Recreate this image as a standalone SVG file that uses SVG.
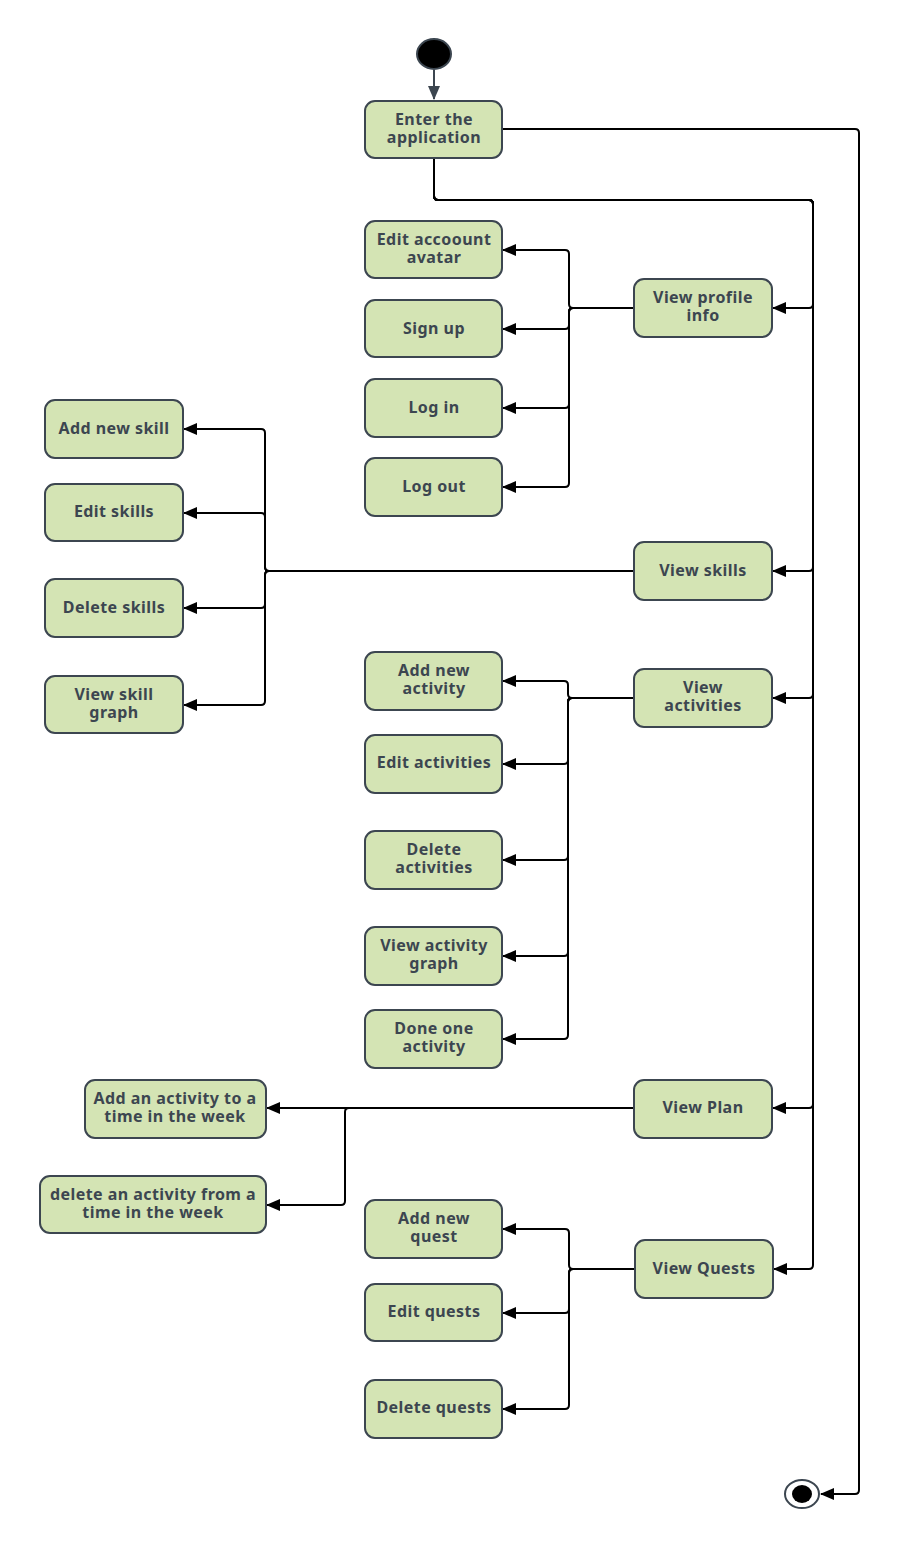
<svg xmlns="http://www.w3.org/2000/svg" width="900" height="1549" viewBox="0 0 900 1549">
  <style>
    .box { fill: #d4e4b4; stroke: #3c4650; stroke-width: 2; }
    .lbl { font-family: "Noto Sans", "Liberation Sans", sans-serif; font-weight: 700; font-size: 16px; letter-spacing: 0.45px; fill: #3c4650; text-anchor: middle; dominant-baseline: central; }
    .wire { fill: none; stroke: #000; stroke-width: 2; }
  </style>
  <defs>
    <marker id="arrow" markerUnits="userSpaceOnUse" markerWidth="14" markerHeight="12" refX="13" refY="6" orient="auto">
      <path d="M0,0 L14,6 L0,12 z" fill="#000"/>
    </marker>
    <marker id="arrowGrey" markerUnits="userSpaceOnUse" markerWidth="14" markerHeight="12" refX="13" refY="6" orient="auto">
      <path d="M0,0 L14,6 L0,12 z" fill="#3c4650"/>
    </marker>
  </defs>

  <!-- connectors -->
  <g id="connectors">
    <path d="M434,70 L434,99" fill="none" stroke="#3c4650" stroke-width="2" marker-end="url(#arrowGrey)"/>
    <!-- enter -> end -->
    <path class="wire" d="M502,129 L855,129 Q859,129 859,133 L859,1490 Q859,1494 855,1494 L821,1494" marker-end="url(#arrow)"/>
    <!-- enter -> main views -->
    <path class="wire" d="M434,158 L434,196 Q434,200 438,200 L809,200 Q813,200 813,204 L813,304 Q813,308 809,308 L773,308" marker-end="url(#arrow)"/>
    <path class="wire" d="M434,158 L434,196 Q434,200 438,200 L809,200 Q813,200 813,204 L813,567 Q813,571 809,571 L773,571" marker-end="url(#arrow)"/>
    <path class="wire" d="M434,158 L434,196 Q434,200 438,200 L809,200 Q813,200 813,204 L813,694 Q813,698 809,698 L773,698" marker-end="url(#arrow)"/>
    <path class="wire" d="M434,158 L434,196 Q434,200 438,200 L809,200 Q813,200 813,204 L813,1104 Q813,1108 809,1108 L773,1108" marker-end="url(#arrow)"/>
    <path class="wire" d="M434,158 L434,196 Q434,200 438,200 L809,200 Q813,200 813,204 L813,1265 Q813,1269 809,1269 L774,1269" marker-end="url(#arrow)"/>

    <!-- profile -->
    <path class="wire" d="M634,308 L573,308 Q569,308 569,304 L569,254 Q569,250 565,250 L503,250" marker-end="url(#arrow)"/>
    <path class="wire" d="M634,308 L573,308 Q569,308 569,312 L569,325 Q569,329 565,329 L503,329" marker-end="url(#arrow)"/>
    <path class="wire" d="M634,308 L573,308 Q569,308 569,312 L569,404 Q569,408 565,408 L503,408" marker-end="url(#arrow)"/>
    <path class="wire" d="M634,308 L573,308 Q569,308 569,312 L569,483 Q569,487 565,487 L503,487" marker-end="url(#arrow)"/>

    <!-- skills -->
    <path class="wire" d="M634,571 L269,571 Q265,571 265,567 L265,433 Q265,429 261,429 L184,429" marker-end="url(#arrow)"/>
    <path class="wire" d="M634,571 L269,571 Q265,571 265,567 L265,517 Q265,513 261,513 L184,513" marker-end="url(#arrow)"/>
    <path class="wire" d="M634,571 L269,571 Q265,571 265,575 L265,604 Q265,608 261,608 L184,608" marker-end="url(#arrow)"/>
    <path class="wire" d="M634,571 L269,571 Q265,571 265,575 L265,701 Q265,705 261,705 L184,705" marker-end="url(#arrow)"/>

    <!-- activities -->
    <path class="wire" d="M634,698 L572,698 Q568,698 568,694 L568,685 Q568,681 564,681 L503,681" marker-end="url(#arrow)"/>
    <path class="wire" d="M634,698 L572,698 Q568,698 568,702 L568,760 Q568,764 564,764 L503,764" marker-end="url(#arrow)"/>
    <path class="wire" d="M634,698 L572,698 Q568,698 568,702 L568,856 Q568,860 564,860 L503,860" marker-end="url(#arrow)"/>
    <path class="wire" d="M634,698 L572,698 Q568,698 568,702 L568,952 Q568,956 564,956 L503,956" marker-end="url(#arrow)"/>
    <path class="wire" d="M634,698 L572,698 Q568,698 568,702 L568,1035 Q568,1039 564,1039 L503,1039" marker-end="url(#arrow)"/>

    <!-- plan -->
    <path class="wire" d="M634,1108 L267,1108" marker-end="url(#arrow)"/>
    <path class="wire" d="M634,1108 L349,1108 Q345,1108 345,1112 L345,1201 Q345,1205 341,1205 L267,1205" marker-end="url(#arrow)"/>

    <!-- quests -->
    <path class="wire" d="M635,1269 L573,1269 Q569,1269 569,1265 L569,1233 Q569,1229 565,1229 L503,1229" marker-end="url(#arrow)"/>
    <path class="wire" d="M635,1269 L573,1269 Q569,1269 569,1273 L569,1309 Q569,1313 565,1313 L503,1313" marker-end="url(#arrow)"/>
    <path class="wire" d="M635,1269 L573,1269 Q569,1269 569,1273 L569,1405 Q569,1409 565,1409 L503,1409" marker-end="url(#arrow)"/>
  </g>

  <!-- start / end -->
  <g id="start"><ellipse cx="434" cy="54" rx="17" ry="15" fill="#000" stroke="#3c4650" stroke-width="2"/></g>
  <g id="end">
    <ellipse cx="802" cy="1494" rx="17" ry="14" fill="#fff" stroke="#3c4650" stroke-width="2"/>
    <ellipse cx="802" cy="1494" rx="10" ry="9" fill="#000"/>
  </g>

  <!-- nodes -->
  <g id="enter"><rect class="box" x="365" y="101" width="137" height="57" rx="10"/><text class="lbl" x="434" y="119">Enter the<tspan x="434" dy="18">application</tspan></text></g>

  <g id="edit-avatar"><rect class="box" x="365" y="221" width="137" height="57" rx="10"/><text class="lbl" x="434" y="239">Edit accoount<tspan x="434" dy="18">avatar</tspan></text></g>
  <g id="sign-up"><rect class="box" x="365" y="300" width="137" height="57" rx="10"/><text class="lbl" x="434" y="328">Sign up</text></g>
  <g id="log-in"><rect class="box" x="365" y="379" width="137" height="58" rx="10"/><text class="lbl" x="434" y="407">Log in</text></g>
  <g id="log-out"><rect class="box" x="365" y="458" width="137" height="58" rx="10"/><text class="lbl" x="434" y="486">Log out</text></g>

  <g id="view-profile"><rect class="box" x="634" y="279" width="138" height="58" rx="10"/><text class="lbl" x="703" y="297">View profile<tspan x="703" dy="18">info</tspan></text></g>
  <g id="view-skills"><rect class="box" x="634" y="542" width="138" height="58" rx="10"/><text class="lbl" x="703" y="570">View skills</text></g>
  <g id="view-activities"><rect class="box" x="634" y="669" width="138" height="58" rx="10"/><text class="lbl" x="703" y="687">View<tspan x="703" dy="18">activities</tspan></text></g>
  <g id="view-plan"><rect class="box" x="634" y="1080" width="138" height="58" rx="10"/><text class="lbl" x="703" y="1107">View Plan</text></g>
  <g id="view-quests"><rect class="box" x="635" y="1240" width="138" height="58" rx="10"/><text class="lbl" x="704" y="1268">View Quests</text></g>

  <g id="add-skill"><rect class="box" x="45" y="400" width="138" height="58" rx="10"/><text class="lbl" x="114" y="428">Add new skill</text></g>
  <g id="edit-skills"><rect class="box" x="45" y="484" width="138" height="57" rx="10"/><text class="lbl" x="114" y="511">Edit skills</text></g>
  <g id="delete-skills"><rect class="box" x="45" y="579" width="138" height="58" rx="10"/><text class="lbl" x="114" y="607">Delete skills</text></g>
  <g id="skill-graph"><rect class="box" x="45" y="676" width="138" height="57" rx="10"/><text class="lbl" x="114" y="694">View skill<tspan x="114" dy="18">graph</tspan></text></g>

  <g id="add-activity"><rect class="box" x="365" y="652" width="137" height="58" rx="10"/><text class="lbl" x="434" y="670">Add new<tspan x="434" dy="18">activity</tspan></text></g>
  <g id="edit-activities"><rect class="box" x="365" y="735" width="137" height="58" rx="10"/><text class="lbl" x="434" y="762">Edit activities</text></g>
  <g id="delete-activities"><rect class="box" x="365" y="831" width="137" height="58" rx="10"/><text class="lbl" x="434" y="849">Delete<tspan x="434" dy="18">activities</tspan></text></g>
  <g id="activity-graph"><rect class="box" x="365" y="927" width="137" height="58" rx="10"/><text class="lbl" x="434" y="945">View activity<tspan x="434" dy="18">graph</tspan></text></g>
  <g id="done-activity"><rect class="box" x="365" y="1010" width="137" height="58" rx="10"/><text class="lbl" x="434" y="1028">Done one<tspan x="434" dy="18">activity</tspan></text></g>

  <g id="plan-add"><rect class="box" x="85" y="1080" width="181" height="58" rx="10"/><text class="lbl" x="175" y="1098">Add an activity to a<tspan x="175" dy="18">time in the week</tspan></text></g>
  <g id="plan-delete"><rect class="box" x="40" y="1176" width="226" height="57" rx="10"/><text class="lbl" x="153" y="1194">delete an activity from a<tspan x="153" dy="18">time in the week</tspan></text></g>

  <g id="add-quest"><rect class="box" x="365" y="1200" width="137" height="58" rx="10"/><text class="lbl" x="434" y="1218">Add new<tspan x="434" dy="18">quest</tspan></text></g>
  <g id="edit-quests"><rect class="box" x="365" y="1284" width="137" height="57" rx="10"/><text class="lbl" x="434" y="1311">Edit quests</text></g>
  <g id="delete-quests"><rect class="box" x="365" y="1380" width="137" height="58" rx="10"/><text class="lbl" x="434" y="1407">Delete quests</text></g>
</svg>
